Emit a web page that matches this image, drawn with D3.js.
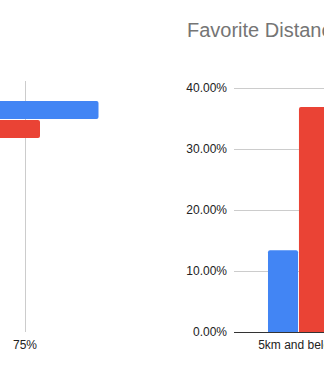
<!DOCTYPE html>
<html>
<head>
<meta charset="utf-8">
<script src="https://cdn.jsdelivr.net/npm/d3@7"></script>
<style>
  html, body { margin: 0; padding: 0; background: #fff; }
  svg { display: block; font-family: Arial, "Liberation Sans", sans-serif; }
</style>
</head>
<body>
<svg id="chart" width="324" height="371"></svg>
<script>
// Left panel: horizontal bars (share per group)
const leftCategories = ["Group"];
const leftBlue = [0.995];
const leftRed = [0.80];
const leftTicks = [0.75];

// Right panel: "Favorite Distance" column chart
const distanceCategories = ["5km and below"];
const distanceBlue = [0.134];
const distanceRed = [0.369];
const distanceTicks = [0, 0.1, 0.2, 0.3, 0.4];

const BLUE = "#4285F4", RED = "#EA4335", GRID = "#cccccc", TEXT = "#222222";

const svg = d3.select("#chart");

// rounded-end bar path helpers
function hBar(x0, x1, y, h, r) {
  r = Math.min(r, (x1 - x0), h / 2);
  return `M${x0},${y}H${x1 - r}Q${x1},${y} ${x1},${y + r}V${y + h - r}Q${x1},${y + h} ${x1 - r},${y + h}H${x0}Z`;
}
function vBar(x, w, yTop, yBase, r) {
  r = Math.min(r, w / 2, yBase - yTop);
  return `M${x},${yBase}V${yTop + r}Q${x},${yTop} ${x + r},${yTop}H${x + w - r}Q${x + w},${yTop} ${x + w},${yTop + r}V${yBase}Z`;
}

// ---------- left panel ----------
const left = svg.append("g");
const lx = d3.scaleLinear().domain([0, 1]).range([-200, 100]);
const ly = d3.scaleBand().domain(leftCategories).range([81, 332])
  .paddingInner(0).paddingOuter(1.13).align(0);
const lSeries = d3.scaleBand().domain(["blue", "red"]).range([0, 37]).paddingInner(0.05);

left.selectAll("line.grid").data(leftTicks).join("line")
  .attr("x1", d => Math.round(lx(d)) + 0.5).attr("x2", d => Math.round(lx(d)) + 0.5)
  .attr("y1", 81).attr("y2", 332)
  .attr("stroke", GRID).attr("stroke-width", 1);

left.selectAll("text.tick").data(leftTicks).join("text")
  .attr("x", d => lx(d)).attr("y", 349)
  .attr("text-anchor", "middle").attr("font-size", 12).attr("fill", TEXT)
  .text(d3.format(".0%"));

leftCategories.forEach((c, i) => {
  const gy = ly(c) + ly.bandwidth() / 2 - 18.5;
  left.append("path")
    .attr("d", hBar(lx(0), lx(leftBlue[i]), gy + lSeries("blue"), lSeries.bandwidth(), 2))
    .attr("fill", BLUE);
  left.append("path")
    .attr("d", hBar(lx(0), lx(leftRed[i]), gy + lSeries("red"), lSeries.bandwidth(), 2))
    .attr("fill", RED);
});

// ---------- right panel ----------
const right = svg.append("g");
const plotLeft = 234;
const ry = d3.scaleLinear().domain([0, 0.4]).range([332, 88]);
const rx = d3.scaleBand().domain(distanceCategories).range([plotLeft, 363])
  .paddingInner(0).paddingOuter(0.557);
const rSeries = d3.scaleBand().domain(["blue", "red"]).range([0, rx.bandwidth()]).paddingInner(0.03);

right.append("text")
  .attr("x", 187).attr("y", 37)
  .attr("font-size", 20).attr("fill", "#757575")
  .text("Favorite Distance");

right.selectAll("line.grid").data(distanceTicks.filter(d => d > 0)).join("line")
  .attr("x1", plotLeft).attr("x2", 324)
  .attr("y1", d => Math.round(ry(d)) + 0.5).attr("y2", d => Math.round(ry(d)) + 0.5)
  .attr("stroke", GRID).attr("stroke-width", 1);

right.selectAll("text.ytick").data(distanceTicks).join("text")
  .attr("x", 227).attr("y", d => ry(d))
  .attr("dy", "0.35em")
  .attr("text-anchor", "end").attr("font-size", 12).attr("fill", TEXT)
  .text(d3.format(".2%"));

distanceCategories.forEach((c, i) => {
  const gx = rx(c);
  right.append("path")
    .attr("d", vBar(gx + rSeries("blue"), rSeries.bandwidth(), ry(distanceBlue[i]), ry(0), 2))
    .attr("fill", BLUE);
  right.append("path")
    .attr("d", vBar(gx + rSeries("red"), rSeries.bandwidth(), ry(distanceRed[i]), ry(0), 2))
    .attr("fill", RED);
  right.append("text")
    .attr("x", gx + rx.bandwidth() / 2).attr("y", 349)
    .attr("text-anchor", "middle").attr("font-size", 12).attr("fill", TEXT)
    .text(c);
});

// baseline
right.append("line")
  .attr("x1", plotLeft).attr("x2", 324)
  .attr("y1", Math.round(ry(0)) + 0.5).attr("y2", Math.round(ry(0)) + 0.5)
  .attr("stroke", "#333333").attr("stroke-width", 1);
</script>
</body>
</html>
